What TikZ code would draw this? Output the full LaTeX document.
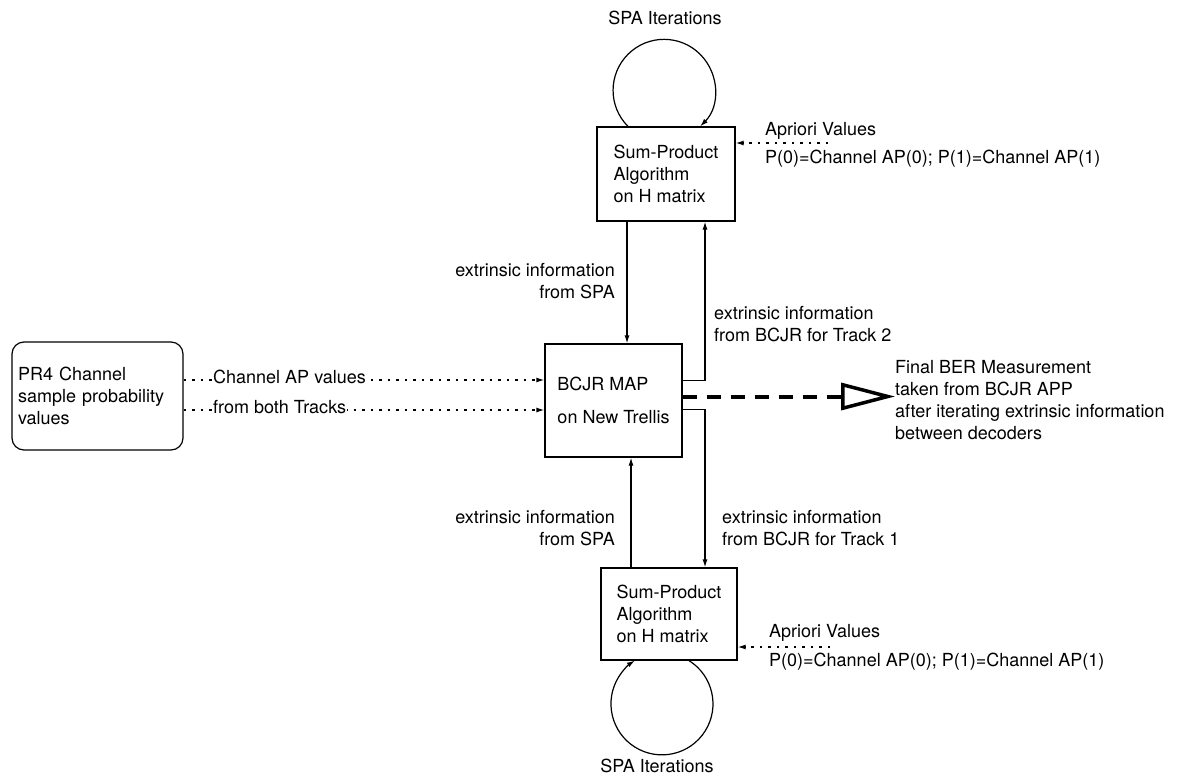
\documentclass[tikz,border=0pt]{standalone}
\usepackage{fontspec}
\setmainfont{TeX Gyre Heros}
\usetikzlibrary{arrows.meta, positioning, calc}

\begin{document}
\begin{tikzpicture}[
    x=1pt, y=-1pt,
    every node/.style = {font=\fontsize{18}{22}\selectfont, inner sep=0pt},
    block/.style  = {draw, line width=1.2pt, align=left},
    pr4box/.style = {draw, line width=1.2pt, rounded corners=12pt, align=left,
                     text width=159pt, minimum width=171pt, minimum height=108pt},
    lbl/.style    = {align=left},
    lblr/.style   = {align=right},
    onwire/.style = {fill=white, inner sep=1pt, anchor=base west},
    feed/.style   = {-{Latex[length=8pt, width=5pt]}, line width=1.2pt},
    prior/.style  = {-{Latex[length=8pt, width=5pt]}, line width=1.3pt,
                     dash pattern=on 2.5pt off 6pt},
    ber/.style    = {-{Triangle[open, length=54pt, width=27pt, line width=3.5pt]},
                     line width=4pt, dash pattern=on 14pt off 10pt},
]

% fixed canvas, same proportions as the scan
\useasboundingbox (0,0) rectangle (1193,779);

% --- the decoders -----------------------------------------------------
\node[block, minimum width=138pt, minimum height=94pt]  (spatop) at (666,174)
      {Sum-Product\\Algorithm\\on H matrix};
\node[block, minimum width=137pt, minimum height=113pt] (bcjr)   at (613.5,400.5)
      {BCJR MAP\\[11pt]on New Trellis};
\node[block, minimum width=136pt, minimum height=92pt]  (spabot) at (669,614)
      {Sum-Product\\Algorithm\\on H matrix};
\node[pr4box] (pr4) at (97.5,396) {PR4 Channel\\sample probability\\values};

% --- SPA iteration loops ----------------------------------------------
\draw[feed] ([xshift=-38pt]spatop.north) arc[start angle=225, end angle=-45, radius=51pt];
\node (looptoplbl) at (665,18) {SPA Iterations};
\draw[feed] ([xshift=20pt]spabot.south) arc[start angle=58, end angle=-238, radius=51pt];
\node (loopbotlbl) at (657,766) {SPA Iterations};

% --- extrinsic information exchange -----------------------------------
\draw[feed] ([xshift=-39pt]spatop.south) -- ([xshift=-39pt]spatop.south |- bcjr.north);
\draw[feed] ([yshift=20pt]bcjr.east) -| ([xshift=39pt]spatop.south);
\draw[feed] ([yshift=-9pt]bcjr.east) -| ([xshift=36pt]spabot.north);
\draw[feed] ([xshift=-38pt]spabot.north) -- ([xshift=-38pt]spabot.north |- bcjr.south);

\node[lblr, anchor=east] (extspatop) at (615,281) {extrinsic information\\from SPA};
\node[lbl, anchor=west]  (extbcjr2)  at (714,324) {extrinsic information\\from BCJR for Track 2};
\node[lblr, anchor=east] (extspabot) at (615,528) {extrinsic information\\from SPA};
\node[lbl, anchor=west]  (extbcjr1)  at (722,528) {extrinsic information\\from BCJR for Track 1};

% --- a priori inputs ----------------------------------------------------
\coordinate (aprtopend) at (828,143);
\draw[prior] (aprtopend) -- (aprtopend -| spatop.east);
\node[anchor=west] (aprtoplbl) at (765,131) {Apriori Values};
\node[anchor=west] (aprtopval) at (765,159) {P(0)=Channel AP(0); P(1)=Channel AP(1)};

\coordinate (aprbotend) at (830,647);
\draw[prior] (aprbotend) -- (aprbotend -| spabot.east);
\node[anchor=west] (aprbotlbl) at (769,633) {Apriori Values};
\node[anchor=west] (aprbotval) at (769,662) {P(0)=Channel AP(0); P(1)=Channel AP(1)};

% --- channel samples into the BCJR ------------------------------------
\draw[prior] ([yshift=16pt]pr4.east) -- ([yshift=16pt]pr4.east -| bcjr.west);
\draw[prior] ([yshift=-14pt]pr4.east) -- ([yshift=-14pt]pr4.east -| bcjr.west);
\node[onwire] (chanlbl)  at (212,383) {Channel AP values};
\node[onwire] (tracklbl) at (212,413) {from both Tracks};

% --- final decision -----------------------------------------------------
\node[lbl, anchor=west] (bertext) at (895,400)
      {Final BER Measurement\\taken from BCJR APP\\after iterating extrinsic information\\between decoders};
\draw[ber] ([yshift=4pt]bcjr.east) -- ([yshift=4pt]bcjr.east -| bertext.west);

\end{tikzpicture}
\end{document}
